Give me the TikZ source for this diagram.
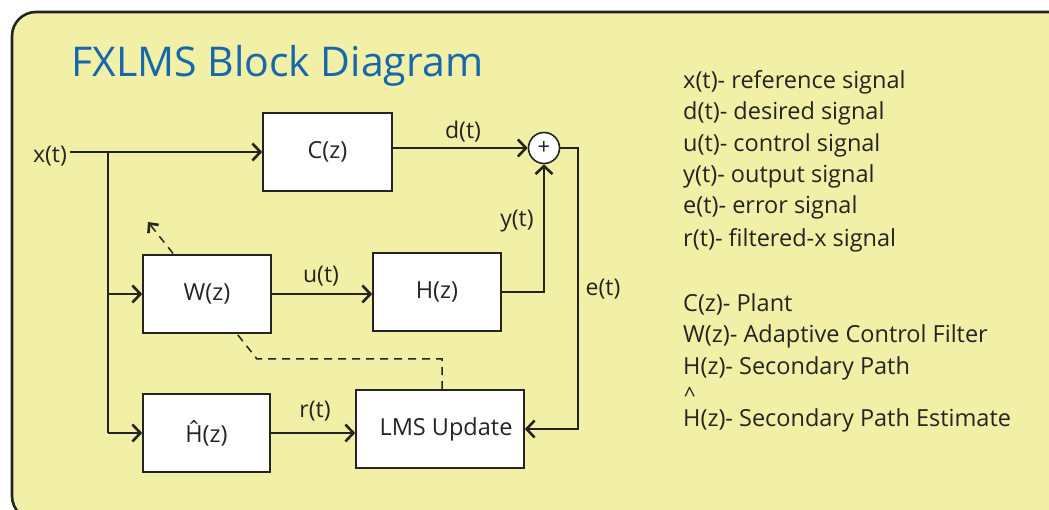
\documentclass[tikz,border=0pt]{standalone}
\usepackage{fontspec}
\setmainfont{Open Sans}
\usetikzlibrary{arrows.meta}
\definecolor{bgyellow}{RGB}{242,239,166}
\definecolor{titleblue}{RGB}{22,104,172}
\definecolor{ln}{RGB}{36,36,32}
\begin{document}
\begin{tikzpicture}[x=1pt,y=-1pt,
  blk/.style={draw=ln,fill=white,line width=1.6pt,inner sep=0pt,text=ln,font=\fontsize{23.5}{28}\selectfont},
  lbl/.style={font=\fontsize{23}{27}\selectfont,text=ln},
  leg/.style={anchor=base west,font=\fontsize{23.5}{28}\selectfont,text=ln,inner sep=0pt},
  wire/.style={draw=ln,line width=1.7pt},
  arr/.style={wire,-{Straight Barb[length=8pt,width=17pt,line width=2.6pt]}}
]
\useasboundingbox (0,0) rectangle (1049,510);
\begin{scope}
\clip (0,0) rectangle (1049,510);
\draw[fill=bgyellow,draw=ln,line width=2.6pt,rounded corners=24pt] (12,12) rectangle (1075,520);
\end{scope}

\node[anchor=base west,inner sep=0pt,text=titleblue,font=\fontsize{41}{48}\selectfont] (title) at (71,77) {FXLMS Block Diagram};

% blocks
\node[blk,minimum width=129pt,minimum height=78pt] (C) at (327.5,152) {C(z)};
\node[blk,circle,minimum size=31pt,font=\fontsize{22}{24}\selectfont] (sum) at (544,148) {+};
\node[blk,minimum width=128pt,minimum height=78pt] (H) at (437,292) {H(z)};
\node[blk,minimum width=127pt,minimum height=78pt] (Hh) at (206.5,433) {Ĥ(z)};
\node[blk,minimum width=168pt,minimum height=78pt] (LMS) at (440,429) {\hspace{12pt}LMS Update};

% dashed adaptation path (behind W)
\coordinate (d1) at (442,359);
\coordinate (d2) at (257,359);
\coordinate (d3) at (148,222);
\draw[wire,line width=1.5pt,dash pattern=on 8pt off 6pt,-{Straight Barb[length=7pt,width=13pt,line width=2.6pt]}] (LMS.north -| d1) -- (d1) -- (d2) -- (d3);

\node[blk,minimum width=128pt,minimum height=78pt] (W) at (207,294) {W(z)};

% labels
\node[lbl] (xt) at (50,156) {x(t)};
\node[lbl] (dt) at (463,132) {d(t)};
\node[lbl] (yt) at (517,221) {y(t)};
\node[lbl] (ut) at (321,276) {u(t)};
\node[lbl] (et) at (603,289) {e(t)};
\node[lbl] (rt) at (315,411) {r(t)};

% wires
\coordinate (br) at (108,152);
\coordinate (ec) at (578,148);
\draw[arr] (xt.east |- C.west) -- (C.west);
\draw[wire] (br) -- (br |- Hh.west);
\draw[arr] (br |- W.west) -- (W.west);
\draw[arr] (br |- Hh.west) -- (Hh.west);
\draw[arr] (W.east) -- (W.east -| H.west);
\draw[arr] (Hh.east) -- (Hh.east -| LMS.west);
\draw[arr] (H.east) -- (H.east -| sum) -- (sum.south);
\draw[arr] (C.east |- sum) -- (sum.west);
\draw[arr] (sum.east) -- (ec) -- (ec |- LMS.east) -- (LMS.east);

% legend
\node[leg] (l1) at (683,89) {x(t)- reference signal};
\node[leg] (l2) at (683,120) {d(t)- desired signal};
\node[leg] (l3) at (683,152) {u(t)- control signal};
\node[leg] (l4) at (683,183) {y(t)- output signal};
\node[leg] (l5) at (683,214) {e(t)- error signal};
\node[leg] (l6) at (683,247) {r(t)- filtered-x signal};
\node[leg] (l7) at (683,312) {C(z)- Plant};
\node[leg] (l8) at (683,342) {W(z)- Adaptive Control Filter};
\node[leg] (l9) at (683,374) {H(z)- Secondary Path};
\node[leg,font=\fontsize{21}{22}\selectfont] (l10h) at (684,402) {\textasciicircum};
\node[leg] (l10) at (683,426) {H(z)- Secondary Path Estimate};
\end{tikzpicture}
\end{document}
